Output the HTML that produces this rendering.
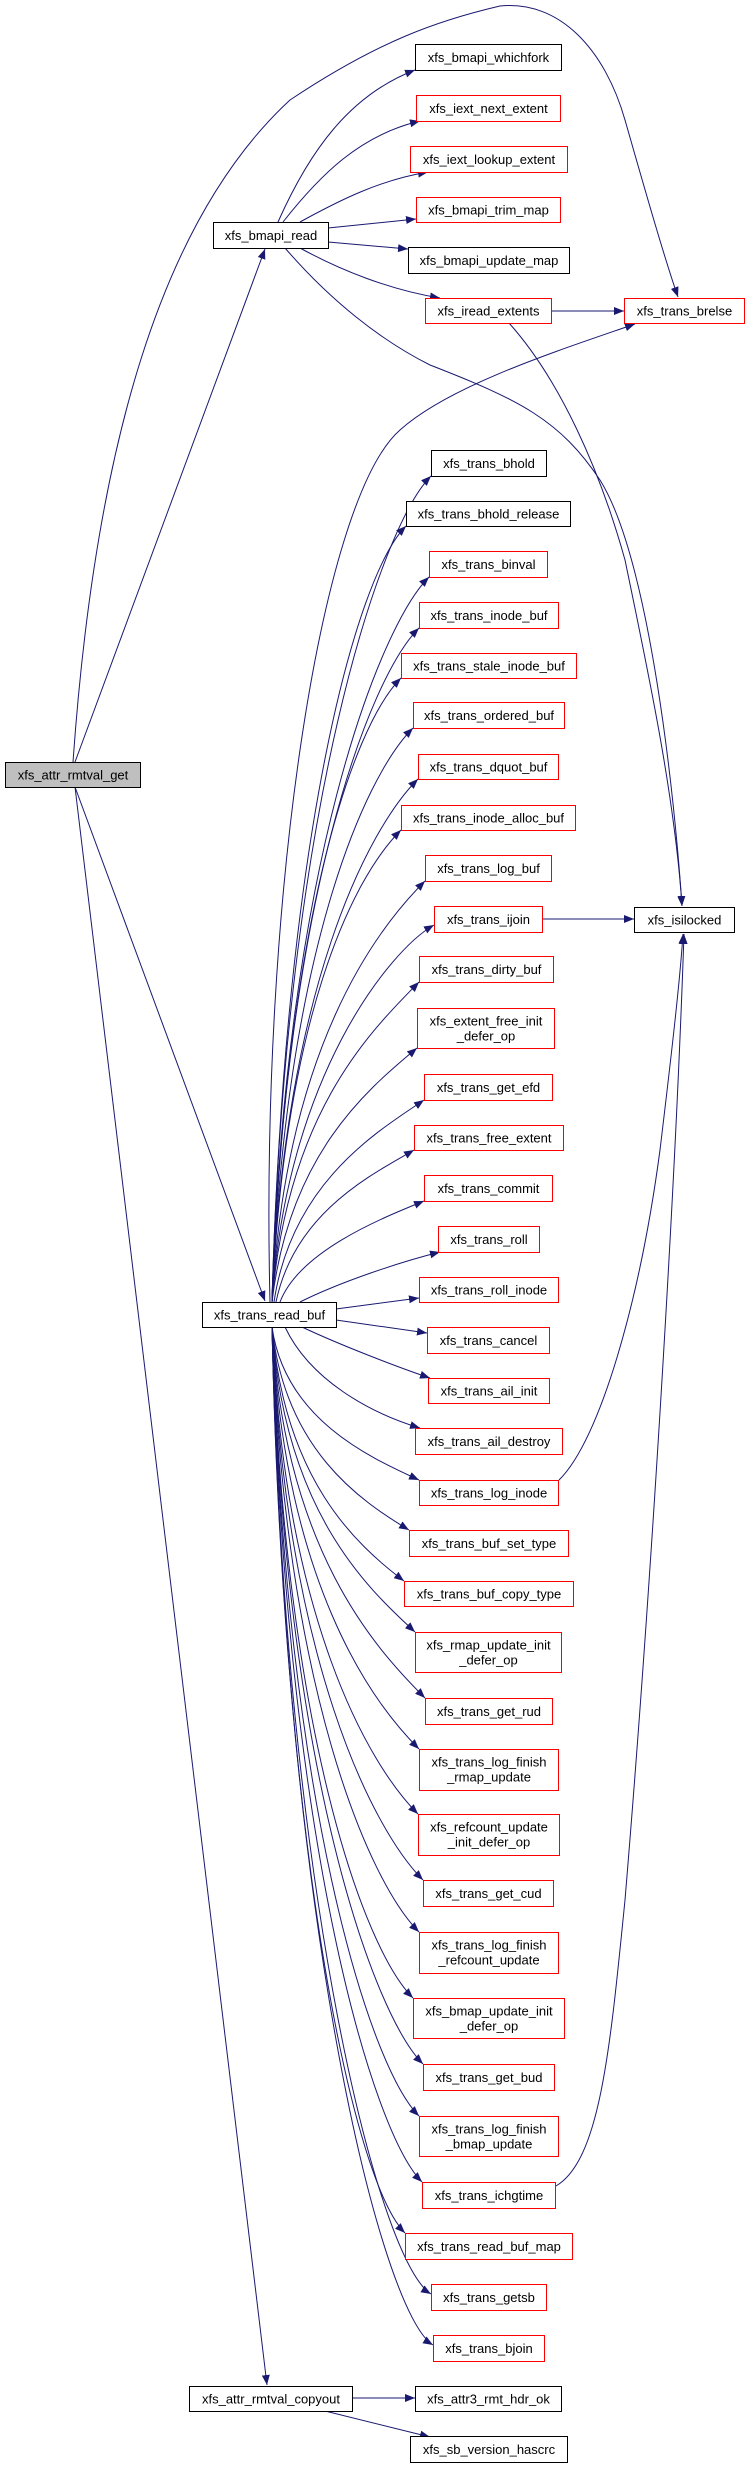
<!DOCTYPE html>
<html><head><meta charset="utf-8"><style>
html,body{margin:0;padding:0;background:#fff;}
svg{display:block;}
text{font-family:"Liberation Sans",sans-serif;font-size:13px;fill:#000;}
</style></head><body>
<svg width="745" height="2466" viewBox="0 0 745 2466" xmlns="http://www.w3.org/2000/svg">
<defs>
<marker id="a" markerWidth="10" markerHeight="8" refX="10" refY="4" orient="auto" markerUnits="userSpaceOnUse">
<path d="M0,0 L10,4 L0,8 z" fill="#191970"/>
</marker>
</defs>
<g fill="none" stroke="#191970" stroke-width="1" marker-end="url(#a)">
<!-- rmtval_get edges -->
<path d="M75,762 L265,249"/>
<path d="M73,762 C95,450 160,220 290,100 C380,40 440,20 500,6 C560,0 605,50 625,120 C645,190 665,260 678,297"/>
<path d="M75,787 L265,1301"/>
<path d="M75,787 L267,2385"/>
<!-- bmapi_read edges -->
<path d="M278,222 C310,150 350,95 415,70"/>
<path d="M283,222 C320,175 360,135 420,121"/>
<path d="M300,222 C340,200 380,180 428,172"/>
<path d="M328,228 L416,219"/>
<path d="M328,242 L408,249"/>
<path d="M300,248 C340,270 390,290 440,298"/>
<path d="M285,248 C330,300 380,340 430,365 C520,400 560,420 600,480 C650,560 675,800 682,906"/>
<path d="M551,311 L624,311"/>
<path d="M509,323 C560,380 600,470 625,560 C650,680 675,800 682,906"/>
<!-- read_buf to brelse -->
<path d="M270,1302 C260,900 320,500 400,430 C450,385 560,350 635,324"/>
<!-- fan up -->
<path d="M272,1302 C285,806 381,526 431,476"/>
<path d="M272,1302 C285,836 356,576 406,526"/>
<path d="M272,1302 C285,867 379,627 429,577"/>
<path d="M272,1302 C285,898 369,678 419,628"/>
<path d="M272,1302 C285,928 351,728 401,678"/>
<path d="M272,1302 C285,958 363,778 413,728"/>
<path d="M272,1302 C285,988 368,829 418,779"/>
<path d="M272,1302 C285,1019 351,880 401,830"/>
<path d="M272,1302 C286,1049 375,931 425,881"/>
<path d="M272,1302 C287,1076 390,950 434,925"/>
<path d="M272,1302 C288,1110 372,1030 419,982"/>
<path d="M272,1302 C290,1150 372,1086 417,1048"/>
<path d="M274,1302 C292,1181 380,1130 424,1100"/>
<path d="M276,1302 C295,1211 375,1173 414,1150"/>
<path d="M280,1302 C300,1250 385,1217 424,1201"/>
<path d="M300,1302 C340,1282 400,1262 440,1252"/>
<path d="M336,1309 L419,1298"/>
<path d="M336,1320 L427,1333"/>
<!-- fan down -->
<path d="M302,1327 C340,1345 400,1368 430,1378"/>
<path d="M285,1327 C310,1380 370,1413 420,1428"/>
<path d="M272,1327 C285,1419 369,1457 419,1480"/>
<path d="M272,1327 C285,1449 359,1500 409,1530"/>
<path d="M272,1327 C285,1479 354,1543 404,1581"/>
<path d="M272,1327 C285,1510 365,1586 415,1632"/>
<path d="M272,1327 C285,1550 375,1648 425,1698"/>
<path d="M272,1327 C285,1580 369,1699 419,1749"/>
<path d="M272,1327 C285,1619 368,1764 418,1814"/>
<path d="M272,1327 C285,1659 373,1830 423,1880"/>
<path d="M272,1327 C285,1690 369,1882 419,1932"/>
<path d="M272,1327 C285,1730 363,1948 413,1998"/>
<path d="M272,1327 C285,1769 373,2014 423,2064"/>
<path d="M272,1327 C285,1800 369,2066 419,2116"/>
<path d="M272,1327 C285,1840 372,2132 422,2182"/>
<path d="M272,1327 C285,1871 355,2183 405,2233"/>
<path d="M272,1327 C285,1907 381,2264 431,2294"/>
<path d="M272,1327 C285,1938 383,2315 433,2345"/>
<!-- to isilocked -->
<path d="M542,919 L634,919"/>
<path d="M559,1480 C600,1440 640,1300 660,1150 C672,1050 680,980 683,934"/>
<path d="M556,2186 C600,2160 610,2050 625,1900 C650,1600 675,1200 684,934"/>
<!-- copyout -->
<path d="M352,2398 L415,2398"/>
<path d="M325,2411 L430,2437"/>
</g>
<g stroke-width="1">
<rect x="5.5" y="762.5" width="135" height="25" fill="#bfbfbf" stroke="#000"/>
<text x="73" y="775" text-anchor="middle" dominant-baseline="central">xfs_attr_rmtval_get</text>

<rect x="213.5" y="222.5" width="115" height="26" fill="#fff" stroke="#000"/>
<text x="271" y="235.5" text-anchor="middle" dominant-baseline="central">xfs_bmapi_read</text>
<rect x="202.5" y="1302.5" width="134" height="25" fill="#fff" stroke="#000"/>
<text x="269.5" y="1315" text-anchor="middle" dominant-baseline="central">xfs_trans_read_buf</text>
<rect x="189.5" y="2386.5" width="163" height="25" fill="#fff" stroke="#000"/>
<text x="271" y="2399" text-anchor="middle" dominant-baseline="central">xfs_attr_rmtval_copyout</text>

<rect x="624.5" y="298.5" width="120" height="25" fill="#fff" stroke="#f00"/>
<text x="684.5" y="311" text-anchor="middle" dominant-baseline="central">xfs_trans_brelse</text>
<rect x="634.5" y="907.5" width="100" height="25" fill="#fff" stroke="#000"/>
<text x="684.5" y="920" text-anchor="middle" dominant-baseline="central">xfs_isilocked</text>
</g>
<g stroke-width="1" fill="#fff">
<rect x="415.5" y="44.5" width="146" height="26" stroke="#000"/>
<rect x="416.5" y="95.5" width="144" height="26" stroke="#f00"/>
<rect x="410.5" y="146.5" width="157" height="26" stroke="#f00"/>
<rect x="416.5" y="197.5" width="144" height="25" stroke="#f00"/>
<rect x="408.5" y="247.5" width="161" height="26" stroke="#000"/>
<rect x="425.5" y="298.5" width="126" height="25" stroke="#f00"/>
<rect x="431.5" y="450.5" width="115" height="26" stroke="#000"/>
<rect x="406.5" y="501.5" width="164" height="25" stroke="#000"/>
<rect x="429.5" y="551.5" width="118" height="26" stroke="#f00"/>
<rect x="419.5" y="602.5" width="139" height="26" stroke="#f00"/>
<rect x="401.5" y="653.5" width="175" height="25" stroke="#f00"/>
<rect x="413.5" y="702.5" width="151" height="26" stroke="#f00"/>
<rect x="418.5" y="754.5" width="140" height="25" stroke="#f00"/>
<rect x="401.5" y="805.5" width="174" height="25" stroke="#f00"/>
<rect x="425.5" y="855.5" width="126" height="26" stroke="#f00"/>
<rect x="434.5" y="906.5" width="108" height="26" stroke="#f00"/>
<rect x="419.5" y="956.5" width="134" height="26" stroke="#f00"/>
<rect x="417.5" y="1008.5" width="137" height="40" stroke="#f00"/>
<rect x="424.5" y="1074.5" width="128" height="26" stroke="#f00"/>
<rect x="414.5" y="1125.5" width="149" height="25" stroke="#f00"/>
<rect x="424.5" y="1175.5" width="128" height="26" stroke="#f00"/>
<rect x="438.5" y="1226.5" width="101" height="26" stroke="#f00"/>
<rect x="419.5" y="1277.5" width="139" height="25" stroke="#f00"/>
<rect x="427.5" y="1327.5" width="122" height="26" stroke="#f00"/>
<rect x="428.5" y="1378.5" width="121" height="25" stroke="#f00"/>
<rect x="415.5" y="1428.5" width="147" height="26" stroke="#f00"/>
<rect x="419.5" y="1480.5" width="139" height="25" stroke="#f00"/>
<rect x="409.5" y="1530.5" width="159" height="26" stroke="#f00"/>
<rect x="404.5" y="1581.5" width="169" height="25" stroke="#f00"/>
<rect x="415.5" y="1632.5" width="146" height="40" stroke="#f00"/>
<rect x="425.5" y="1698.5" width="127" height="26" stroke="#f00"/>
<rect x="419.5" y="1749.5" width="139" height="41" stroke="#f00"/>
<rect x="418.5" y="1814.5" width="141" height="41" stroke="#f00"/>
<rect x="423.5" y="1880.5" width="130" height="26" stroke="#f00"/>
<rect x="419.5" y="1932.5" width="139" height="41" stroke="#f00"/>
<rect x="413.5" y="1998.5" width="151" height="40" stroke="#f00"/>
<rect x="423.5" y="2064.5" width="131" height="26" stroke="#f00"/>
<rect x="419.5" y="2116.5" width="139" height="40" stroke="#f00"/>
<rect x="422.5" y="2182.5" width="133" height="26" stroke="#f00"/>
<rect x="405.5" y="2233.5" width="167" height="26" stroke="#f00"/>
<rect x="431.5" y="2284.5" width="115" height="26" stroke="#f00"/>
<rect x="433.5" y="2335.5" width="111" height="26" stroke="#f00"/>
<rect x="415.5" y="2386.5" width="146" height="25" stroke="#000"/>
<rect x="410.5" y="2436.5" width="157" height="26" stroke="#000"/>
</g>
<g text-anchor="middle" dominant-baseline="central">
<text x="488.5" y="57.5">xfs_bmapi_whichfork</text>
<text x="488.5" y="108.5">xfs_iext_next_extent</text>
<text x="489" y="159.5">xfs_iext_lookup_extent</text>
<text x="488.5" y="210">xfs_bmapi_trim_map</text>
<text x="489" y="260.5">xfs_bmapi_update_map</text>
<text x="488.5" y="311">xfs_iread_extents</text>
<text x="489" y="463.5">xfs_trans_bhold</text>
<text x="488.5" y="514">xfs_trans_bhold_release</text>
<text x="488.5" y="564.5">xfs_trans_binval</text>
<text x="489" y="615.5">xfs_trans_inode_buf</text>
<text x="489" y="666">xfs_trans_stale_inode_buf</text>
<text x="489" y="715.5">xfs_trans_ordered_buf</text>
<text x="488.5" y="767">xfs_trans_dquot_buf</text>
<text x="488.5" y="818">xfs_trans_inode_alloc_buf</text>
<text x="488.5" y="868.5">xfs_trans_log_buf</text>
<text x="488.5" y="919.5">xfs_trans_ijoin</text>
<text x="486.5" y="969.5">xfs_trans_dirty_buf</text>
<text x="486" y="1021">xfs_extent_free_init</text>
<text x="486" y="1036">_defer_op</text>
<text x="488.5" y="1087.5">xfs_trans_get_efd</text>
<text x="489" y="1138">xfs_trans_free_extent</text>
<text x="488.5" y="1188.5">xfs_trans_commit</text>
<text x="489" y="1239.5">xfs_trans_roll</text>
<text x="489" y="1290">xfs_trans_roll_inode</text>
<text x="488.5" y="1340.5">xfs_trans_cancel</text>
<text x="489" y="1391">xfs_trans_ail_init</text>
<text x="489" y="1441.5">xfs_trans_ail_destroy</text>
<text x="489" y="1493">xfs_trans_log_inode</text>
<text x="489" y="1543.5">xfs_trans_buf_set_type</text>
<text x="489" y="1594">xfs_trans_buf_copy_type</text>
<text x="488.5" y="1645">xfs_rmap_update_init</text>
<text x="488.5" y="1660">_defer_op</text>
<text x="489" y="1711.5">xfs_trans_get_rud</text>
<text x="489" y="1762">xfs_trans_log_finish</text>
<text x="489" y="1777">_rmap_update</text>
<text x="489" y="1827">xfs_refcount_update</text>
<text x="489" y="1842">_init_defer_op</text>
<text x="488.5" y="1893.5">xfs_trans_get_cud</text>
<text x="489" y="1945">xfs_trans_log_finish</text>
<text x="489" y="1960">_refcount_update</text>
<text x="489" y="2011">xfs_bmap_update_init</text>
<text x="489" y="2026">_defer_op</text>
<text x="489" y="2077.5">xfs_trans_get_bud</text>
<text x="489" y="2129">xfs_trans_log_finish</text>
<text x="489" y="2144">_bmap_update</text>
<text x="489" y="2195.5">xfs_trans_ichgtime</text>
<text x="489" y="2246.5">xfs_trans_read_buf_map</text>
<text x="489" y="2297.5">xfs_trans_getsb</text>
<text x="489" y="2348.5">xfs_trans_bjoin</text>
<text x="488.5" y="2399">xfs_attr3_rmt_hdr_ok</text>
<text x="489" y="2449.5">xfs_sb_version_hascrc</text>
</g>
</svg>
</body></html>
